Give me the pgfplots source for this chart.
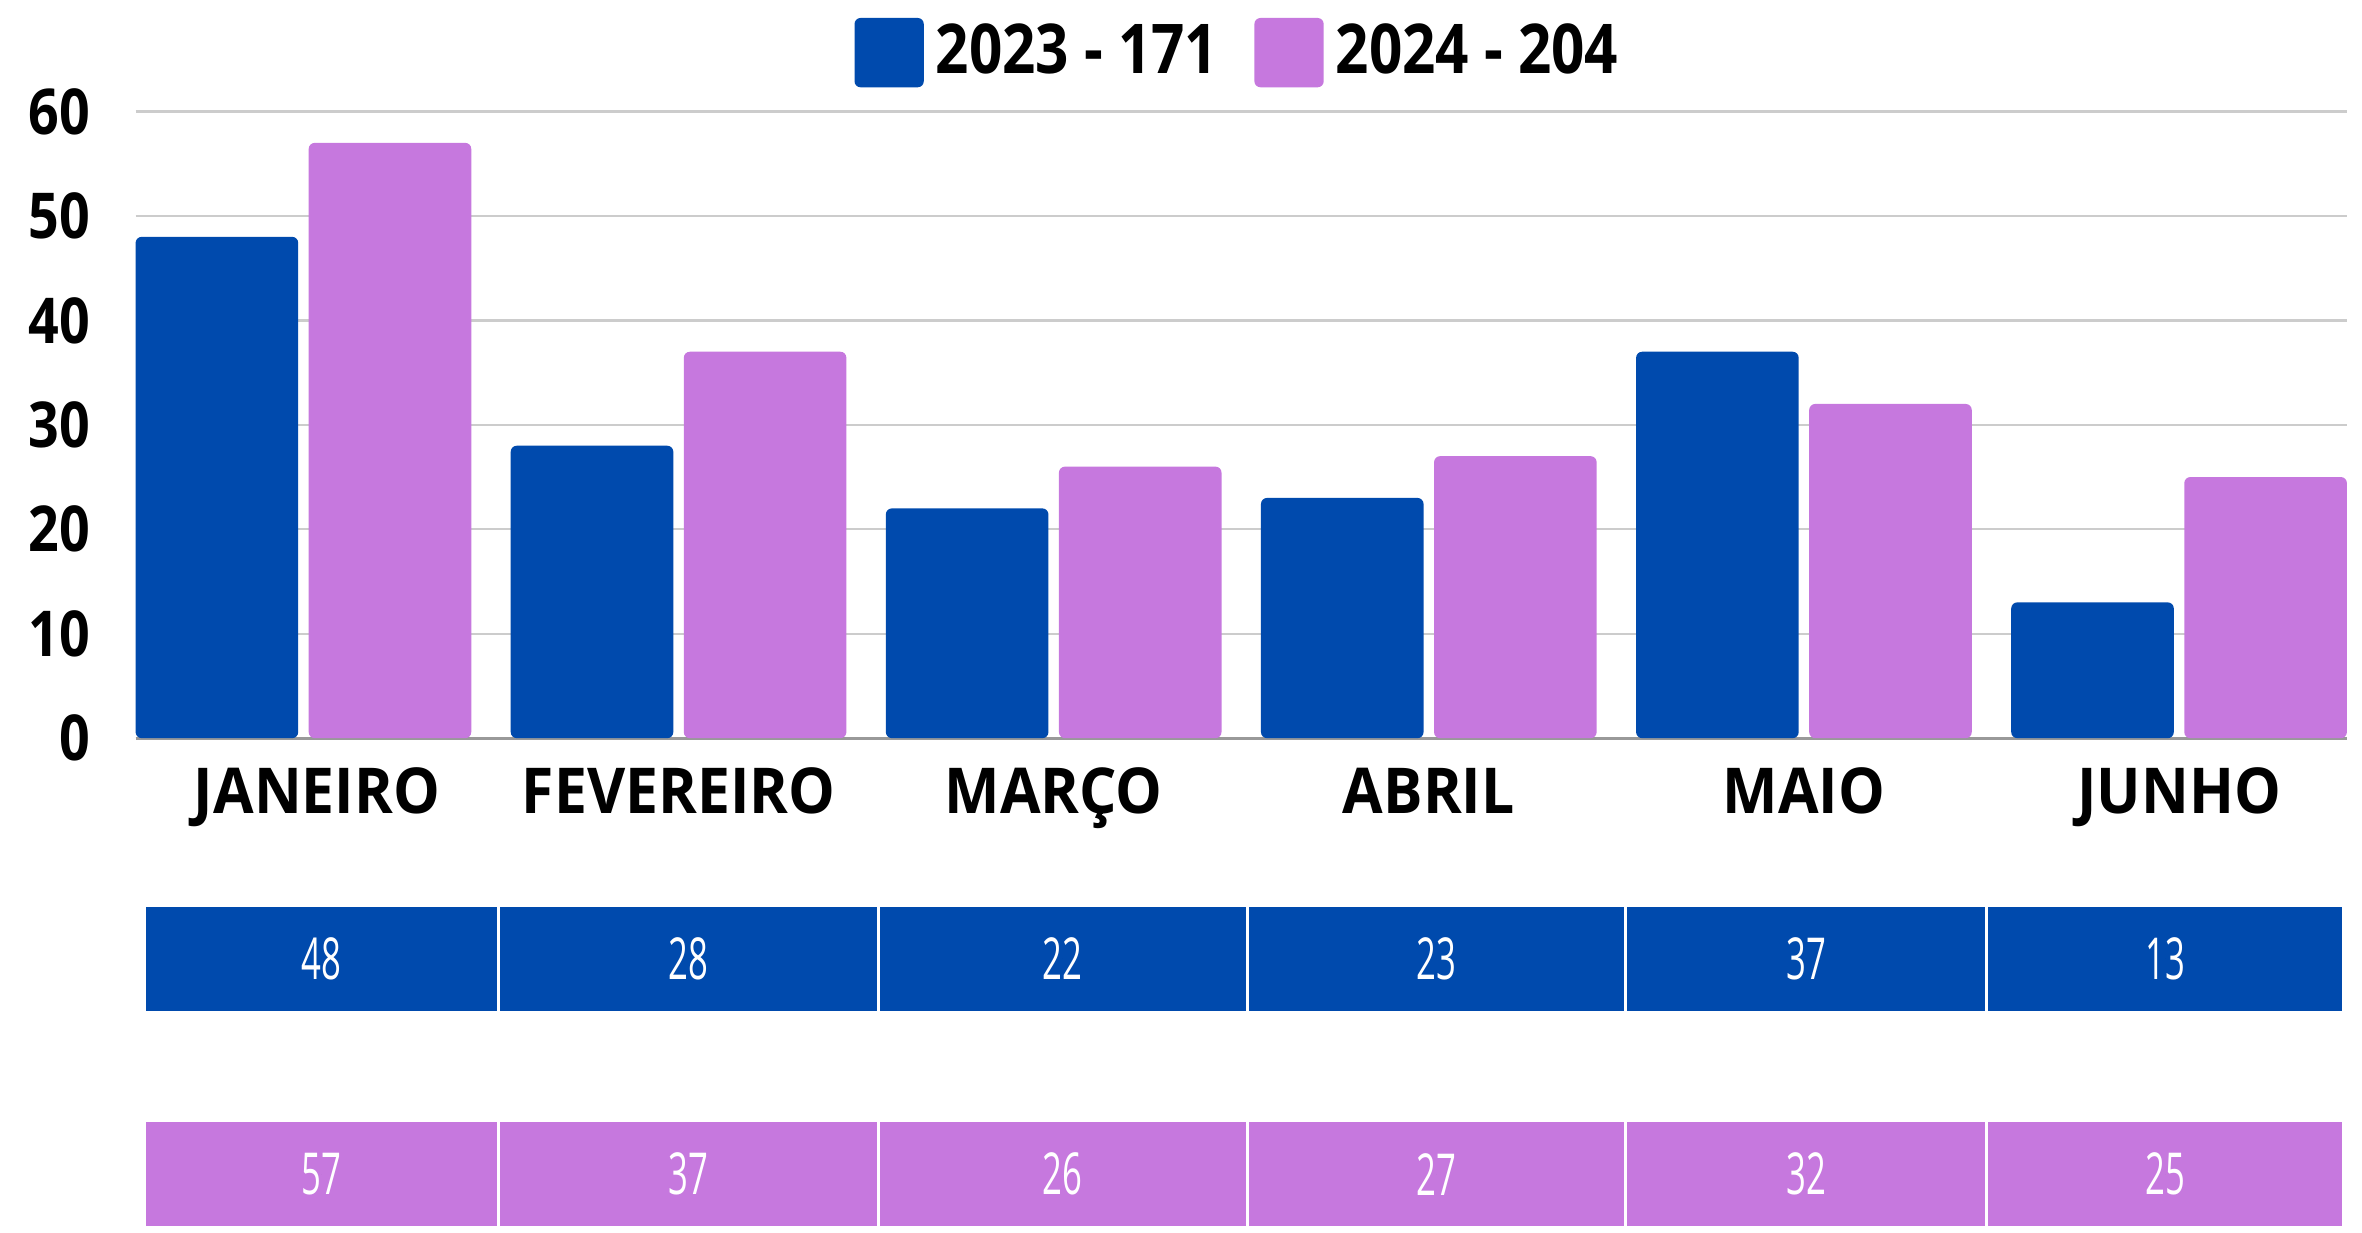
\documentclass[border=0pt]{standalone}
\usepackage{pgfplots}
\pgfplotsset{compat=1.18}
\usepackage{pgfplotstable}
\usepackage{fontspec}
\setmainfont{Open Sans}[FakeStretch=0.85]
\newfontfamily\xlabfont{Open Sans}[FakeStretch=0.93]
\newfontfamily\condfont{Open Sans}[FakeStretch=0.6]
\definecolor{c23}{HTML}{004AAD}
\definecolor{c24}{HTML}{C678DE}

\pgfplotstableread{
idx v23 v24 cx
0 48 57 213.5
1 28 37 457
2 22 26 705.5
3 23 27 953.5
4 37 32 1199
5 13 25 1437.5
}\data

\pgfplotstableread{
x h
96 1
331 1
583 1
828 1
1079 1
1319 1
1556 1
}\cells

\begin{document}
\begin{tikzpicture}
\useasboundingbox (0,0) rectangle (392pt,-204.5pt);
\begin{axis}[
  at={(22.5pt,-122.5pt)}, anchor=south west,
  scale only axis, width=367pt, height=104pt,
  xmin=-0.4475, xmax=5.4475, ymin=0, ymax=60,
  ybar, bar width=0.4334,
  xtick={0,...,5},
  xticklabels={\hspace*{4.5pt}JANEIRO,FEVEREIRO,MARÇO,ABRIL,MAIO,JUNHO},
  ytick={0,10,...,60},
  axis lines*=left,
  y axis line style={draw=none},
  x axis line style={color=black!40, line width=0.5pt},
  tick style={draw=none},
  ymajorgrids, major grid style={color=black!20, line width=0.4pt},
  /pgf/number format/assume math mode=true,
  yticklabel style={font=\fontsize{10.5}{12}\selectfont\bfseries, xshift=-4pt},
  xticklabel style={font=\xlabfont\fontsize{10.5}{12}\selectfont\bfseries, yshift=2.9pt},
  clip=false,
  legend style={at={(axis description cs:0.5005,1.094)}, anchor=center, draw=none,
    font=\fontsize{11.4}{13}\selectfont\bfseries, legend columns=2,
    /tikz/every even column/.append style={column sep=4pt},
    inner sep=0pt},
]
\addplot[fill=c23, draw=none, bar shift=-0.2307, rounded corners=1pt,
  legend image code/.code={\fill[c23] (-1pt,-5.75pt) rectangle (10.5pt,5.75pt);}]
  table[x=idx, y=v23] {\data};
\addlegendentry{2023 - 171}
\addplot[fill=c24, draw=none, bar shift=0.2307, rounded corners=1pt,
  legend image code/.code={\fill[c24] (-1pt,-5.75pt) rectangle (10.5pt,5.75pt);}]
  table[x=idx, y=v24] {\data};
\addlegendentry{2024 - 204}
\end{axis}

\begin{axis}[
  at={(22.5pt,-168pt)}, anchor=south west,
  scale only axis, width=367pt, height=17.75pt,
  xmin=90, xmax=1558, ymin=0, ymax=1,
  hide axis, clip=false,
]
\addplot[ybar interval, fill=c23, draw=white, line width=0.5pt] table[x=x, y=h] {\cells};
\addplot[only marks, mark=*, mark size=0pt,
  scatter/use mapped color={draw=c23, fill=c23},
  nodes near coords, point meta=explicit symbolic,
  every node near coord/.append style={anchor=center, text=white, font=\condfont\fontsize{9.6}{10}\selectfont}]
  table[x=cx, y expr=0.5, meta=v23] {\data};
\end{axis}

\begin{axis}[
  at={(22.5pt,-203.75pt)}, anchor=south west,
  scale only axis, width=367pt, height=17.75pt,
  xmin=90, xmax=1558, ymin=0, ymax=1,
  hide axis, clip=false,
]
\addplot[ybar interval, fill=c24, draw=white, line width=0.5pt] table[x=x, y=h] {\cells};
\addplot[only marks, mark=*, mark size=0pt,
  scatter/use mapped color={draw=c24, fill=c24},
  nodes near coords, point meta=explicit symbolic,
  every node near coord/.append style={anchor=center, text=white, font=\condfont\fontsize{9.6}{10}\selectfont}]
  table[x=cx, y expr=0.5, meta=v24] {\data};
\end{axis}
\end{tikzpicture}
\end{document}
